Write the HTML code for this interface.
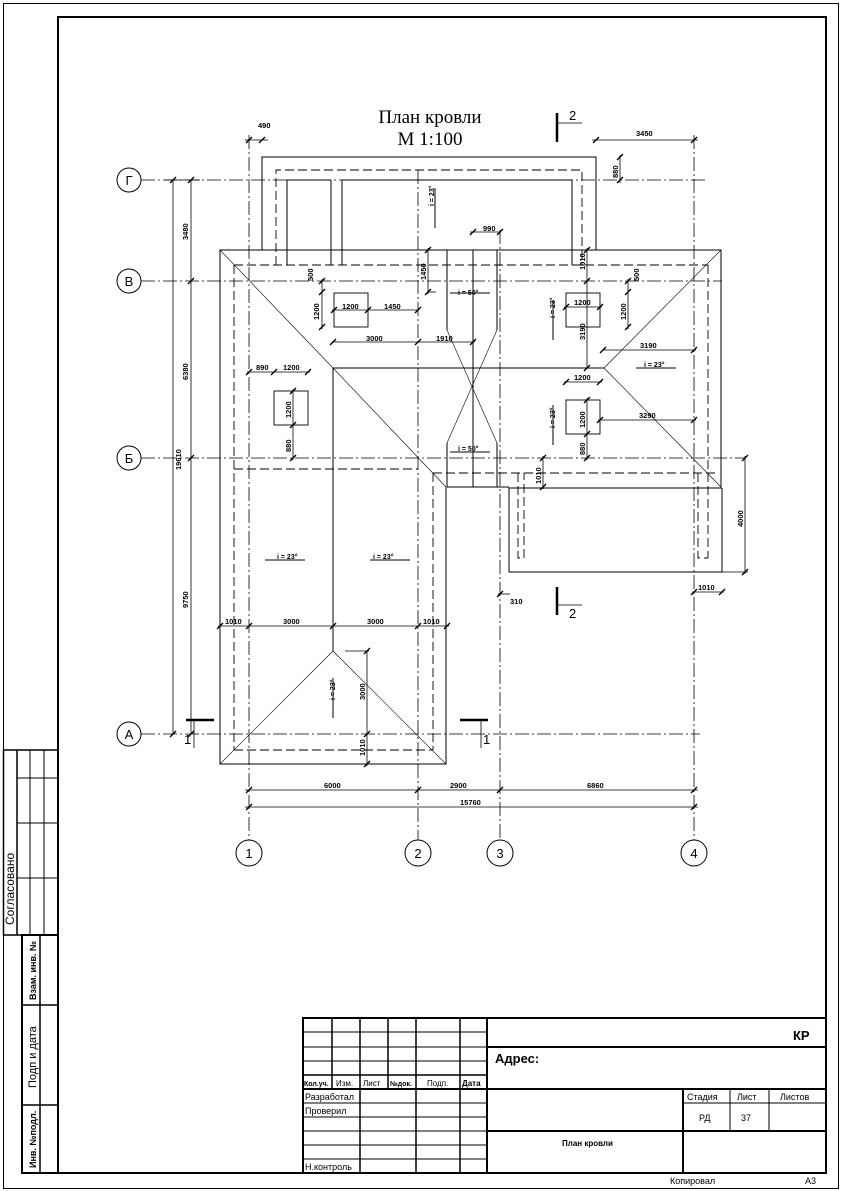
<!DOCTYPE html>
<html><head><meta charset="utf-8">
<style>
html,body{margin:0;padding:0;background:#fff;}
svg{display:block;}
text{font-family:"Liberation Sans",sans-serif;fill:#000;}
</style></head><body>
<svg width="842" height="1191" viewBox="0 0 842 1191" xmlns="http://www.w3.org/2000/svg">
<rect x="3.5" y="3.5" width="835" height="1185" fill="none" stroke="#000" stroke-width="1"/>
<rect x="58" y="17" width="768" height="1156" fill="none" stroke="#000" stroke-width="2"/>

<g stroke="#000" fill="none">
<rect x="3.5" y="750" width="54.5" height="185" stroke-width="1.5"/>
<line x1="17" y1="750" x2="17" y2="935" stroke-width="1.5"/>
<line x1="30" y1="750" x2="30" y2="935"/>
<line x1="44" y1="750" x2="44" y2="935"/>
<line x1="17" y1="778" x2="58" y2="778"/>
<line x1="17" y1="823" x2="58" y2="823"/>
<line x1="17" y1="878" x2="58" y2="878"/>
<rect x="22" y="935" width="36" height="238" stroke-width="2"/>
<line x1="40" y1="935" x2="40" y2="1173" stroke-width="1.5"/>
<line x1="22" y1="1005" x2="58" y2="1005" stroke-width="1.5"/>
<line x1="22" y1="1105" x2="58" y2="1105" stroke-width="1.5"/>
</g>
<text x="0" y="0" transform="translate(14,925) rotate(-90)" font-size="12">Согласовано</text>
<text x="0" y="0" transform="translate(36,1000) rotate(-90)" font-size="9" font-weight="bold">Взам. инв. №</text>
<text x="0" y="0" transform="translate(36,1088) rotate(-90)" font-size="11">Подп и дата</text>
<text x="0" y="0" transform="translate(36,1168) rotate(-90)" font-size="9" font-weight="bold">Инв. №подл.</text>

<g stroke="#000" fill="none">
<rect x="303" y="1018" width="523" height="155" stroke-width="2"/>
<line x1="487" y1="1018" x2="487" y2="1173" stroke-width="2"/>
<line x1="303" y1="1089" x2="826" y2="1089" stroke-width="2"/>
<line x1="487" y1="1047" x2="826" y2="1047" stroke-width="2"/>
<line x1="487" y1="1131" x2="826" y2="1131" stroke-width="2"/>
<line x1="683" y1="1089" x2="683" y2="1173" stroke-width="2"/>
<line x1="683" y1="1103" x2="826" y2="1103" stroke-width="1"/>
<line x1="730" y1="1089" x2="730" y2="1131" stroke-width="1"/>
<line x1="769" y1="1089" x2="769" y2="1131" stroke-width="1"/>
<line x1="332" y1="1018" x2="332" y2="1089" stroke-width="1.5"/>
<line x1="360" y1="1018" x2="360" y2="1173" stroke-width="1.5"/>
<line x1="388" y1="1018" x2="388" y2="1089" stroke-width="1.5"/>
<line x1="416" y1="1018" x2="416" y2="1173" stroke-width="1.5"/>
<line x1="460" y1="1018" x2="460" y2="1173" stroke-width="1.5"/>
<line x1="303" y1="1032" x2="487" y2="1032"/>
<line x1="303" y1="1047" x2="487" y2="1047"/>
<line x1="303" y1="1061" x2="487" y2="1061"/>
<line x1="303" y1="1075" x2="487" y2="1075" stroke-width="1.5"/>
<line x1="303" y1="1103" x2="487" y2="1103"/>
<line x1="303" y1="1117" x2="487" y2="1117"/>
<line x1="303" y1="1131" x2="487" y2="1131"/>
<line x1="303" y1="1145" x2="487" y2="1145"/>
<line x1="303" y1="1159" x2="487" y2="1159"/>
</g>
<g font-size="8">
<text x="304" y="1086" font-weight="bold" font-size="7">Кол.уч.</text>
<text x="336" y="1086">Изм.</text>
<text x="363" y="1086">Лист</text>
<text x="390" y="1086" font-weight="bold" font-size="7">№док.</text>
<text x="427" y="1086">Подп.</text>
<text x="462" y="1086" font-weight="bold">Дата</text>
<text x="305" y="1100" font-size="9">Разработал</text>
<text x="305" y="1114" font-size="9">Проверил</text>
<text x="305" y="1170" font-size="9">Н.контроль</text>
<text x="687" y="1100" font-size="9">Стадия</text>
<text x="737" y="1100" font-size="9">Лист</text>
<text x="780" y="1100" font-size="9">Листов</text>
<text x="699" y="1121" font-size="9">РД</text>
<text x="741" y="1121" font-size="9">37</text>
<text x="562" y="1146" font-weight="bold">План кровли</text>
<text x="793" y="1040" font-size="13" font-weight="bold">КР</text>
<text x="495" y="1063" font-size="13" font-weight="bold">Адрес:</text>
<text x="670" y="1184" font-size="9">Копировал</text>
<text x="805" y="1184" font-size="9">А3</text>
</g>

<text x="430" y="123" font-size="19" text-anchor="middle" style="font-family:'Liberation Serif',serif">План кровли</text>
<text x="430" y="145" font-size="19" text-anchor="middle" style="font-family:'Liberation Serif',serif">М 1:100</text>

<g stroke="#000" stroke-width="0.8" stroke-dasharray="14,3,2,3" fill="none">
<line x1="141" y1="180" x2="708" y2="180"/>
<line x1="141" y1="281" x2="722" y2="281"/>
<line x1="141" y1="458" x2="745" y2="458"/>
<line x1="141" y1="734" x2="700" y2="734"/>
<line x1="249" y1="135" x2="249" y2="840"/>
<line x1="418" y1="170" x2="418" y2="840"/>
<line x1="500" y1="230" x2="500" y2="840"/>
<line x1="694" y1="135" x2="694" y2="840"/>
</g>
<g stroke="#000" fill="#fff" stroke-width="1">
<circle cx="129" cy="180" r="12"/><circle cx="129" cy="281" r="12"/><circle cx="129" cy="458" r="12"/><circle cx="129" cy="734" r="12"/>
<circle cx="249" cy="853" r="13"/><circle cx="418" cy="853" r="13"/><circle cx="500" cy="853" r="13"/><circle cx="694" cy="853" r="13"/>
</g>
<g font-size="13" text-anchor="middle">
<text x="129" y="185">Г</text><text x="129" y="286">В</text><text x="129" y="463">Б</text><text x="129" y="739">А</text>
<text x="249" y="858">1</text><text x="418" y="858">2</text><text x="500" y="858">3</text><text x="694" y="858">4</text>
</g>

<g stroke="#000" stroke-width="1" fill="none">
<polyline points="262,250 262,157 596,157 596,250"/>
<polyline points="446,487 446,764 220,764 220,250 721,250 721,488 509,488 509,572 722,572 722,488"/>
<line x1="287" y1="180" x2="287" y2="265"/>
<line x1="331" y1="180" x2="331" y2="265"/>
<line x1="342" y1="180" x2="342" y2="265"/>
<line x1="572" y1="180" x2="572" y2="265"/>
<line x1="287" y1="180" x2="331" y2="180"/>
<line x1="342" y1="180" x2="572" y2="180"/>
<line x1="333" y1="368" x2="604" y2="368"/>
<line x1="333" y1="368" x2="333" y2="651"/>
<line x1="447" y1="250" x2="447" y2="330"/><line x1="497" y1="250" x2="497" y2="330"/>
<line x1="447" y1="443" x2="447" y2="487"/><line x1="497" y1="443" x2="497" y2="487"/>
<line x1="473" y1="250" x2="473" y2="487"/>
<line x1="447" y1="487" x2="509" y2="487"/>
</g>
<g stroke="#000" stroke-width="0.6" fill="none">
<line x1="220" y1="250" x2="333" y2="368"/>
<line x1="721" y1="250" x2="604" y2="368"/>
<line x1="333" y1="368" x2="446" y2="487"/>
<line x1="604" y1="368" x2="721" y2="487"/>
<line x1="447" y1="330" x2="497" y2="443"/>
<line x1="497" y1="330" x2="447" y2="443"/>
<line x1="220" y1="764" x2="333" y2="651"/>
<line x1="446" y1="764" x2="333" y2="651"/>
</g>
<g stroke="#000" stroke-width="0.9" stroke-dasharray="9,4" fill="none">
<polyline points="276,265 276,170 582,170 582,265"/>
<line x1="234" y1="265" x2="708" y2="265"/>
<line x1="234" y1="265" x2="234" y2="750"/>
<line x1="234" y1="750" x2="433" y2="750"/>
<line x1="433" y1="473" x2="433" y2="750"/>
<line x1="708" y1="265" x2="708" y2="558"/>
<line x1="234" y1="469" x2="418" y2="469"/>
<line x1="433" y1="473" x2="716" y2="473"/>
<polyline points="518,473 518,558 524,558 524,473"/>
<polyline points="698,473 698,558 708,558"/>
</g>

<g stroke="#000" stroke-width="0.8" fill="none">
<line x1="173" y1="180" x2="173" y2="734"/>
<line x1="191" y1="180" x2="191" y2="734"/>
<line x1="165" y1="180" x2="200" y2="180"/>
<line x1="245" y1="790" x2="698" y2="790"/>
<line x1="245" y1="807" x2="698" y2="807"/>
<line x1="245" y1="140" x2="268" y2="140"/>
<line x1="592" y1="140" x2="698" y2="140"/>
<line x1="620" y1="155" x2="620" y2="183"/>
<line x1="470" y1="232" x2="501" y2="232"/>
<line x1="428" y1="248" x2="428" y2="294"/><line x1="428" y1="292" x2="436" y2="292"/>
<line x1="587" y1="248" x2="587" y2="368"/>
<line x1="322" y1="279" x2="322" y2="329"/>
<line x1="628" y1="279" x2="628" y2="329"/>
<line x1="332" y1="310" x2="418" y2="310"/>
<line x1="332" y1="342" x2="475" y2="342"/>
<line x1="564" y1="307" x2="602" y2="307"/>
<line x1="602" y1="350" x2="696" y2="350"/>
<line x1="564" y1="382" x2="602" y2="382"/>
<line x1="598" y1="420" x2="696" y2="420"/>
<line x1="587" y1="398" x2="587" y2="460"/>
<line x1="247" y1="372" x2="310" y2="372"/>
<line x1="293" y1="389" x2="293" y2="460"/>
<line x1="543" y1="456" x2="543" y2="489"/><line x1="524" y1="488" x2="545" y2="488"/>
<line x1="745" y1="456" x2="745" y2="574"/><line x1="722" y1="572" x2="748" y2="572"/>
<line x1="218" y1="626" x2="449" y2="626"/>
<line x1="367" y1="651" x2="367" y2="766"/><line x1="345" y1="651" x2="369" y2="651"/>
<line x1="692" y1="592" x2="724" y2="592"/>
<line x1="498" y1="594" x2="510" y2="594"/>
</g>
<g stroke="#000" stroke-width="1.4">
<path d="M170,183l6,-6M188,183l6,-6M188,284l6,-6M188,461l6,-6M170,737l6,-6M188,737l6,-6
M246,793l6,-6M415,793l6,-6M497,793l6,-6M691,793l6,-6M246,810l6,-6M691,810l6,-6
M246,143l6,-6M259,143l6,-6M593,143l6,-6M691,143l6,-6M617,160l6,-6M617,183l6,-6
M470,235l6,-6M497,235l6,-6M425,253l6,-6M425,295l6,-6M584,253l6,-6M584,284l6,-6M584,371l6,-6
M319,284l6,-6M319,295l6,-6M319,330l6,-6M625,284l6,-6M625,295l6,-6M625,330l6,-6
M331,313l6,-6M365,313l6,-6M415,313l6,-6M330,345l6,-6M415,345l6,-6M470,345l6,-6
M563,310l6,-6M597,310l6,-6M600,353l6,-6M691,353l6,-6M563,385l6,-6M597,385l6,-6M597,423l6,-6M691,423l6,-6
M584,403l6,-6M584,437l6,-6M584,461l6,-6M246,375l6,-6M271,375l6,-6M305,375l6,-6M290,394l6,-6M290,428l6,-6M290,461l6,-6
M540,461l6,-6M540,490l6,-6M742,461l6,-6M742,575l6,-6M217,629l6,-6M246,629l6,-6M330,629l6,-6M415,629l6,-6M444,629l6,-6
M364,654l6,-6M364,737l6,-6M364,767l6,-6M691,595l6,-6M719,595l6,-6M497,597l6,-6"/>
</g>
<g font-size="7.5" font-weight="bold">
<text x="258" y="128">490</text>
<text x="636" y="136">3450</text>
<text x="483" y="231">990</text>
<text x="342" y="309">1200</text><text x="384" y="309">1450</text>
<text x="366" y="341">3000</text><text x="436" y="341">1910</text>
<text x="574" y="305">1200</text>
<text x="640" y="348">3190</text>
<text x="574" y="380">1200</text>
<text x="639" y="418">3290</text>
<text x="256" y="370">890</text><text x="283" y="370">1200</text>
<text x="225" y="624">1010</text><text x="283" y="624">3000</text>
<text x="367" y="624">3000</text><text x="423" y="624">1010</text>
<text x="698" y="590">1010</text>
<text x="510" y="604">310</text>
<text x="324" y="788">6000</text>
<text x="450" y="788">2900</text>
<text x="587" y="788">6860</text>
<text x="460" y="805">15760</text>
<text transform="translate(181,470) rotate(-90)">19610</text>
<text transform="translate(188,240) rotate(-90)">3480</text>
<text transform="translate(188,380) rotate(-90)">6380</text>
<text transform="translate(188,608) rotate(-90)">9750</text>
<text transform="translate(618,178) rotate(-90)">880</text>
<text transform="translate(426,280) rotate(-90)">1450</text>
<text transform="translate(585,270) rotate(-90)">1010</text>
<text transform="translate(585,340) rotate(-90)">3190</text>
<text transform="translate(313,281) rotate(-90)">500</text>
<text transform="translate(639,281) rotate(-90)">500</text>
<text transform="translate(319,320) rotate(-90)">1200</text>
<text transform="translate(626,320) rotate(-90)">1200</text>
<text transform="translate(291,418) rotate(-90)">1200</text>
<text transform="translate(291,452) rotate(-90)">880</text>
<text transform="translate(585,428) rotate(-90)">1200</text>
<text transform="translate(585,455) rotate(-90)">880</text>
<text transform="translate(541,484) rotate(-90)">1010</text>
<text transform="translate(743,527) rotate(-90)">4000</text>
<text transform="translate(365,700) rotate(-90)">3000</text>
<text transform="translate(365,756) rotate(-90)">1010</text>
</g>

<g stroke="#000" fill="none" stroke-width="0.9">
<rect x="334" y="293" width="34" height="34"/>
<rect x="566" y="293" width="34" height="34"/>
<rect x="274" y="391" width="34" height="34"/>
<rect x="566" y="400" width="34" height="34"/>
</g>

<g font-size="7" font-weight="bold">
<text x="458" y="295">i = 50°</text><path d="M450,293h40" stroke="#000"/>
<text x="458" y="451">i = 50°</text><path d="M450,452h40" stroke="#000"/>
<text x="644" y="367">i = 23°</text><path d="M636,368h40" stroke="#000"/>
<text x="277" y="559">i = 23°</text><path d="M265,560h40" stroke="#000"/>
<text x="373" y="559">i = 23°</text><path d="M370,560h40" stroke="#000"/>
<text transform="translate(434,206) rotate(-90)">i = 23°</text><path d="M435,188v40" stroke="#000"/>
<text transform="translate(555,318) rotate(-90)">i = 23°</text><path d="M553,300v40" stroke="#000"/>
<text transform="translate(555,428) rotate(-90)">i = 23°</text><path d="M553,405v40" stroke="#000"/>
<text transform="translate(335,700) rotate(-90)">i = 23°</text><path d="M333,678v40" stroke="#000"/>
</g>

<g stroke="#000" fill="none">
<line x1="557" y1="113" x2="557" y2="142" stroke-width="2.5"/>
<line x1="557" y1="123" x2="582" y2="123" stroke-width="0.8"/>
<line x1="557" y1="587" x2="557" y2="615" stroke-width="2.5"/>
<line x1="557" y1="605" x2="582" y2="605" stroke-width="0.8"/>
<line x1="186" y1="720" x2="214" y2="720" stroke-width="2.5"/>
<line x1="194" y1="720" x2="194" y2="748" stroke-width="0.8"/>
<line x1="460" y1="720" x2="488" y2="720" stroke-width="2.5"/>
<line x1="481" y1="720" x2="481" y2="748" stroke-width="0.8"/>
</g>
<g font-size="13">
<text x="569" y="120">2</text><text x="569" y="618">2</text>
<text x="184" y="744">1</text><text x="483" y="744">1</text>
</g>
</svg>
</body></html>
